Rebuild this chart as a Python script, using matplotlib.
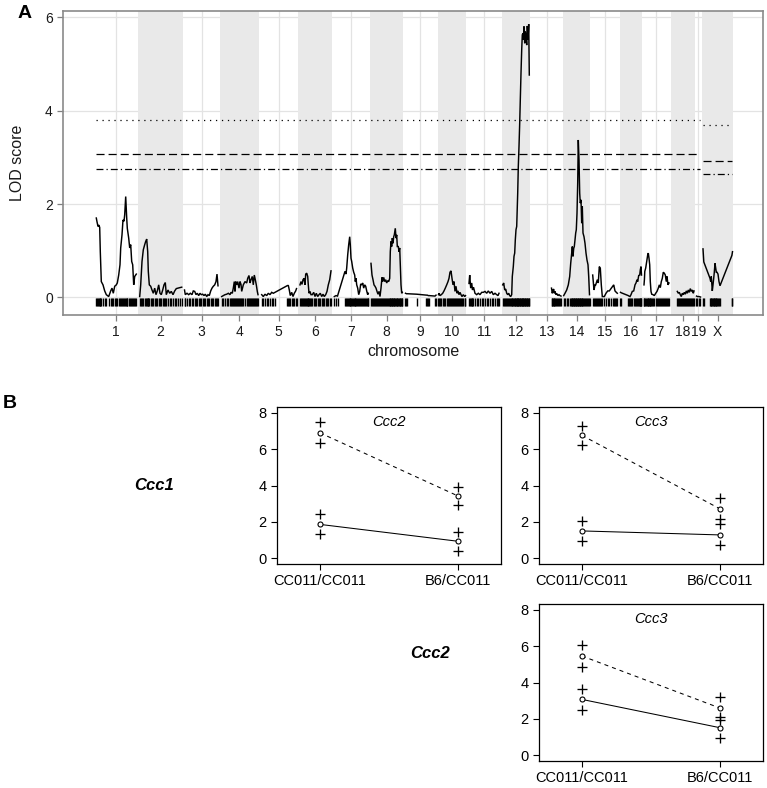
import matplotlib
matplotlib.use("Agg")
import matplotlib.pyplot as plt
import numpy as np

plt.rcParams['font.family'] = ['Liberation Sans', 'DejaVu Sans']
plt.rcParams['lines.scale_dashes'] = False

# ---------------- Panel A data ----------------
chrom_names = ["1", "2", "3", "4", "5", "6", "7", "8", "9", "10", "11", "12",
               "13", "14", "15", "16", "17", "18", "19", "X"]
chrom_lengths = [41, 43, 34, 37, 36, 32, 35, 31.5, 31, 27, 32, 27, 29, 26, 26,
                 21, 25, 22.5, 4, 29.5]
chrom_gap = 2.5

pos_1 = [0.8, 1.5, 2.5, 3.3, 4.2, 4.8, 5.8, 7.5, 9.2, 10.8, 13.2, 15.2, 16.5, 17.8, 19.2,
         20.8, 21.8, 23.2, 24.5, 25.2, 26.5, 27.5, 28.5, 29.2, 30.2, 31.2, 31.8, 33.2,
         34.2, 35.2, 36.2, 37.2, 38.2, 39.2, 40.8]
lod_1 = [1.70, 1.62, 1.52, 1.55, 1.50, 0.98, 0.34, 0.27, 0.14, 0.06, 0.02, 0.14, 0.20, 0.09,
         0.24, 0.27, 0.31, 0.48, 0.70, 1.06, 1.34, 1.66, 1.63, 1.77, 2.16, 1.70, 1.48,
         1.27, 1.06, 1.13, 0.77, 0.70, 0.27, 0.45, 0.50]
pos_2 = [0.7, 1.7, 3, 4.3, 5.7, 6.7, 7.7, 8.7, 9.3, 10.3, 11.7, 13, 14.3, 15.7, 17, 18.3,
         19.7, 21, 22.3, 23.7, 25, 26.3, 27.3, 29, 30.7, 32.3, 34, 35.7, 37.3, 39, 40.7, 42.7]
lod_2 = [0.02, 0.27, 0.77, 1.02, 1.13, 1.20, 1.25, 0.98, 0.56, 0.27, 0.24, 0.16, 0.09, 0.20,
         0.06, 0.14, 0.27, 0.09, 0.06, 0.16, 0.27, 0.32, 0.06, 0.16, 0.09, 0.13, 0.06, 0.14,
         0.19, 0.20, 0.21, 0.22]
pos_3 = [0, 0.8, 2.5, 4.2, 5.8, 7.5, 8.8, 10.2, 11.5, 12.8, 14.2, 15.5, 16.8, 18.2, 19.5,
         20.8, 22.2, 23.5, 24.8, 26.2, 27.5, 28.8, 30.2, 31.5, 32.5, 33.5]
lod_3 = [0.16, 0.06, 0.09, 0.06, 0.09, 0.06, 0.14, 0.13, 0.06, 0.09, 0.04, 0.09, 0.06, 0.07,
         0.04, 0.07, 0.02, 0.06, 0.04, 0.14, 0.20, 0.24, 0.27, 0.34, 0.50, 0.25]
pos_4 = [0.7, 2.3, 4, 5.7, 7.3, 9, 10, 11.3, 12.3, 13.3, 14, 14.7, 15.7, 16.7, 18, 19, 20,
         20.7, 22.3, 24, 25.7, 26.7, 28, 29, 30, 31.3, 32.3, 33.3, 34.3, 35.3, 36.3, 37]
lod_4 = [0.02, 0.04, 0.06, 0.07, 0.09, 0.06, 0.11, 0.09, 0.20, 0.34, 0.13, 0.34, 0.27, 0.34,
         0.20, 0.34, 0.28, 0.13, 0.27, 0.34, 0.31, 0.41, 0.47, 0.31, 0.38, 0.45, 0.27, 0.48,
         0.38, 0.27, 0.13, 0.06]
pos_5 = [1.2, 2.8, 4.5, 6.2, 7.8, 9.5, 11.2, 12.8, 14.5, 26.5, 27.8, 28.8, 29.8, 31.2, 32.5,
         33.8, 35.2, 36]
lod_5 = [0.06, 0.02, 0.07, 0.04, 0.09, 0.06, 0.11, 0.09, 0.11, 0.25, 0.26, 0.16, 0.04, 0.11,
         0.02, 0.09, 0.14, 0.19]
pos_6 = [1, 2, 3, 4, 5, 6, 6.7, 7.7, 8.7, 9.3, 10, 11, 12, 13.3, 14.7, 16, 17.3, 18.7, 20,
         21.3, 22.7, 24, 25.3, 26.7, 28, 29.3, 30.7, 32]
lod_6 = [0.27, 0.34, 0.28, 0.38, 0.41, 0.27, 0.50, 0.52, 0.45, 0.27, 0.09, 0.13, 0.06, 0.06,
         0.11, 0.02, 0.09, 0.02, 0.06, 0.09, 0.02, 0.07, 0.02, 0.06, 0.13, 0.27, 0.38, 0.57]
pos_7 = [0.8, 2.5, 4, 11.5, 12.5, 13.2, 14.2, 15.2, 16.2, 16.8, 17.5, 18.2, 19.2, 20.2, 21.2,
         21.8, 22.5, 23.2, 24.2, 25.2, 26.2, 27.2, 28.2, 29.2, 30.2, 31.2, 32.2, 33.2, 34.2, 34.8]
lod_7 = [0.02, 0.04, 0.03, 0.56, 0.50, 0.63, 0.91, 1.13, 1.30, 1.13, 0.84, 0.77, 0.63, 0.54,
         0.48, 0.34, 0.41, 0.27, 0.20, 0.06, 0.13, 0.29, 0.27, 0.31, 0.20, 0.27, 0.24, 0.14,
         0.06, 0.09]
pos_8 = [0, 1, 2, 3, 4, 5, 6, 7, 8, 9, 10, 11, 11.7, 12.7, 13.7, 14.7, 15.7, 16.7, 17.7, 18.7,
         19.3, 20, 20.7, 21.3, 22, 22.7, 23.3, 24.3, 25, 25.7, 26.3, 27.3, 28, 28.7, 29.3, 30,
         30.7, 31.3]
lod_8 = [0.73, 0.48, 0.38, 0.27, 0.24, 0.20, 0.13, 0.07, 0.13, 0.02, 0.20, 0.43, 0.34, 0.43,
         0.34, 0.38, 0.31, 0.36, 0.34, 0.41, 0.98, 1.20, 1.09, 1.27, 1.16, 1.30, 1.34, 1.48,
         1.27, 1.34, 1.09, 1.09, 0.98, 1.06, 0.70, 0.27, 0.09, 0.11]
pos_9 = [0.5, 1.5, 2.5, 11.7, 21.5, 22.3, 23.3, 24.3, 30, 31]
lod_9 = [0.09, 0.08, 0.08, 0.07, 0.05, 0.05, 0.04, 0.04, 0.03, 0.05]
pos_10 = [0, 0.5, 1.5, 2.8, 4.2, 5.5, 6.8, 8.2, 9.5, 10.5, 11.5, 12.5, 13.5, 14.5, 15.5, 16.5,
          17.5, 18.5, 19.5, 20.5, 21.5, 22.5, 23.5, 24.8, 26.2, 27]
lod_10 = [0.06, 0.09, 0.04, 0.06, 0.09, 0.14, 0.20, 0.27, 0.34, 0.41, 0.54, 0.57, 0.41, 0.27,
          0.34, 0.13, 0.24, 0.09, 0.14, 0.06, 0.11, 0.06, 0.02, 0.06, 0.02, 0.04]
pos_11 = [1, 1.7, 2.7, 3.7, 4.5, 5.5, 7, 8.7, 10.3, 12, 13.7, 15.3, 17, 18.7, 20.3, 22, 23.7,
          25.3, 27, 28.7, 30, 31]
lod_11 = [0.30, 0.48, 0.20, 0.31, 0.16, 0.22, 0.09, 0.06, 0.09, 0.06, 0.11, 0.11, 0.13, 0.09,
          0.14, 0.09, 0.13, 0.06, 0.09, 0.06, 0.04, 0.09]
pos_12 = [0.2, 1.2, 2.2, 3.2, 4.2, 5.2, 6.2, 7.2, 8.2, 9.2, 9.8, 10.8, 11.5, 12.2, 12.8, 13.5,
          14.2, 14.5, 15.2, 15.8, 16.5, 17.2, 17.8, 18.5, 19.2, 19.8, 20.5, 20.8, 21.5, 22.2,
          22.8, 23.5, 24.2, 24.8, 25.5, 26.2, 26.8]
lod_12 = [0.27, 0.31, 0.16, 0.18, 0.09, 0.06, 0.09, 0.04, 0.02, 0.06, 0.45, 0.66, 0.88, 0.95,
          1.23, 1.45, 1.52, 1.73, 2.23, 2.80, 3.23, 3.73, 4.23, 4.80, 5.30, 5.62, 5.65, 5.51,
          5.80, 5.44, 5.69, 5.58, 5.40, 5.81, 5.51, 5.85, 4.76]
pos_13 = [19.5, 20.3, 21, 21.7, 22.3, 23, 24, 25, 26, 27, 28, 29]
lod_13 = [0.20, 0.09, 0.16, 0.18, 0.09, 0.13, 0.06, 0.08, 0.04, 0.06, 0.04, 0.03]
pos_14 = [0.2, 1.5, 3.2, 4.8, 6.2, 7.2, 8.2, 8.8, 9.5, 10.2, 10.8, 11.5, 12.2, 12.8, 13.5,
          14.2, 14.8, 15.5, 16.2, 16.8, 17.5, 18.2, 18.8, 19.5, 20.5, 21.5, 22.5, 23.5, 24.5,
          25.2, 26]
lod_14 = [0.04, 0.09, 0.16, 0.27, 0.45, 0.73, 0.95, 1.09, 0.88, 1.05, 1.09, 1.23, 1.38, 1.45,
          1.80, 2.45, 3.37, 2.94, 2.23, 2.02, 2.09, 1.59, 1.95, 1.38, 1.30, 1.16, 0.95, 0.80,
          0.70, 0.45, 0.06]
pos_15 = [0.7, 2, 3, 3.7, 5.3, 6.3, 7.3, 8.3, 9.3, 10.3, 12.3, 14, 15.7, 17.3, 19, 20.7, 21.7,
          23, 24.3, 25.3]
lod_15 = [0.48, 0.16, 0.27, 0.27, 0.38, 0.31, 0.66, 0.63, 0.27, 0.02, 0.02, 0.09, 0.14, 0.14,
          0.19, 0.24, 0.27, 0.14, 0.11, 0.09]
pos_16 = [0, 0.8, 7.8, 8.5, 9.5, 10.5, 11.8, 13.2, 14.5, 15.5, 16.5, 17.2, 18.2, 19.2, 19.8,
          20.5, 21]
lod_16 = [0.11, 0.10, 0.04, 0.03, 0.02, 0.06, 0.13, 0.14, 0.27, 0.31, 0.38, 0.34, 0.47, 0.48,
          0.59, 0.66, 0.48]
pos_17 = [0, 0.4, 0.8, 1.7, 2.7, 3.7, 4.3, 5, 5.7, 6.3, 7, 7.7, 9, 10.3, 11.7, 13, 14.3, 15.3,
          16.3, 17.3, 18.3, 19.3, 20.3, 21.3, 22.3, 23, 24, 25]
lod_17 = [0.27, 0.38, 0.56, 0.63, 0.77, 0.91, 0.95, 0.84, 0.70, 0.34, 0.13, 0.07, 0.06, 0.04,
          0.09, 0.13, 0.20, 0.27, 0.21, 0.34, 0.41, 0.54, 0.52, 0.48, 0.34, 0.45, 0.27, 0.31]
pos_18 = [5.8, 6.8, 7.8, 8.8, 9.8, 10.8, 11.8, 12.8, 13.8, 14.8, 15.8, 16.8, 17.8, 18.8, 19.8,
          20.8, 21.8, 22.5]
lod_18 = [0.13, 0.09, 0.11, 0.06, 0.02, 0.09, 0.06, 0.11, 0.07, 0.14, 0.09, 0.16, 0.11, 0.19,
          0.13, 0.16, 0.09, 0.14]
pos_19 = [0, 1, 2.5, 4]
lod_19 = [0.03, 0.02, 0.02, 0.01]
pos_X = [0, 0.8, 7, 7.7, 8.3, 9.3, 10, 10.7, 11.3, 12, 12.7, 13.3, 14, 15, 16, 17, 28.9, 29.5]
lod_X = [1.04, 0.76, 0.41, 0.34, 0.45, 0.14, 0.27, 0.41, 0.54, 0.73, 0.63, 0.54, 0.54, 0.50,
         0.34, 0.25, 0.90, 0.98]

all_pos = [pos_1, pos_2, pos_3, pos_4, pos_5, pos_6, pos_7, pos_8, pos_9, pos_10, pos_11,
           pos_12, pos_13, pos_14, pos_15, pos_16, pos_17, pos_18, pos_19, pos_X]
all_lod = [lod_1, lod_2, lod_3, lod_4, lod_5, lod_6, lod_7, lod_8, lod_9, lod_10, lod_11,
           lod_12, lod_13, lod_14, lod_15, lod_16, lod_17, lod_18, lod_19, lod_X]

thr_auto = [3.80, 3.08, 2.74]   # dotted, dashed, dot-dash
thr_x = [3.69, 2.93, 2.64]

# ---------------- Panel B data ----------------
genotypes = ["CC011/CC011", "B6/CC011"]
row_labels = ["Ccc1", "Ccc2"]
panel_titles = ["Ccc2", "Ccc3", "Ccc3"]

p1_dash_mean = [6.90, 3.42]; p1_dash_hi = [7.51, 3.93]; p1_dash_lo = [6.32, 2.90]
p1_sol_mean = [1.86, 0.93];  p1_sol_hi = [2.41, 1.46];  p1_sol_lo = [1.32, 0.38]
p2_dash_mean = [6.76, 2.71]; p2_dash_hi = [7.29, 3.29]; p2_dash_lo = [6.25, 2.18]
p2_sol_mean = [1.50, 1.28];  p2_sol_hi = [2.07, 1.86];  p2_sol_lo = [0.93, 0.70]
p3_dash_mean = [5.46, 2.59]; p3_dash_hi = [6.05, 3.22]; p3_dash_lo = [4.87, 2.08]
p3_sol_mean = [3.07, 1.51];  p3_sol_hi = [3.64, 1.91];  p3_sol_lo = [2.48, 0.95]

# ---------------- Figure ----------------
W, H = 767, 788
fig = plt.figure(figsize=(W / 100, H / 100), dpi=100)

def frac(l, t, r, b):
    return [l / W, 1 - b / H, (r - l) / W, (b - t) / H]

# ===== Panel A =====
axA = fig.add_axes(frac(63, 11, 763, 315))
starts = []
s = 0.0
for L in chrom_lengths:
    starts.append(s)
    s += L + chrom_gap
ends = [st + L for st, L in zip(starts, chrom_lengths)]
centers = [(st + e) / 2 for st, e in zip(starts, ends)]

band_col = '#E9E9E9'
for i in range(len(chrom_names)):
    if i % 2 == 1:
        axA.axvspan(starts[i] - 0.6, ends[i] + 0.6, color=band_col, lw=0, zorder=0.6)

for yv in [0, 2, 4, 6]:
    axA.axhline(yv, color='#E3E3E3', lw=0.9, zorder=0.5)
for c in centers:
    axA.axvline(c, color='#E3E3E3', lw=0.9, zorder=0.5)

for st, p, l in zip(starts, all_pos, all_lod):
    xs = np.asarray(p) + st
    axA.plot(xs, l, color='black', lw=1.05, zorder=3, solid_joinstyle='miter')
    axA.vlines(xs, -0.18, -0.015, color='black', lw=1.0, zorder=3)

styles = [(0, (0.9, 3.4)), (0, (5.8, 2.9)), (0, (5.0, 2.2, 0.9, 2.2))]
for yv, ls in zip(thr_auto, styles):
    axA.plot([starts[0], ends[18]], [yv, yv], color='black', lw=0.9, linestyle=ls, zorder=2.5)
for yv, ls in zip(thr_x, styles):
    axA.plot([starts[19], ends[19]], [yv, yv], color='black', lw=0.9, linestyle=ls, zorder=2.5)

axA.set_xlim(-32.5, ends[-1] + 30.5)
axA.set_ylim(-0.375, 6.13)
axA.set_xticks(centers)
axA.set_xticklabels(chrom_names)
axA.set_yticks([0, 2, 4, 6])
axA.tick_params(direction='out', length=4.3, width=0.9, color='#7F7F7F',
                labelsize=10, pad=3, labelcolor='#1A1A1A')
for sp in axA.spines.values():
    sp.set_color('#8A8A8A')
    sp.set_linewidth(1.2)
fig.text(18 / W, 1 - 163 / H, "LOD score", rotation=90, ha='center', va='center',
         fontsize=11.5, color='#1A1A1A')
fig.text(413 / W, 1 - 351 / H, "chromosome", ha='center', va='center',
         fontsize=11.5, color='#1A1A1A')

fig.text(25 / W, 1 - 14 / H, "A", ha='center', va='center', fontsize=14, fontweight='bold')
fig.text(10 / W, 1 - 404 / H, "B", ha='center', va='center', fontsize=14, fontweight='bold')

# ===== Panel B =====
def effect_panel(ax, title, dmean, dhi, dlo, smean, shi, slo):
    x = [1, 2]
    ax.plot(x, dmean, color='black', lw=0.75, linestyle=(0, (2.9, 2.9)), zorder=2)
    ax.plot(x, smean, color='black', lw=0.75, zorder=2)
    for vals in (dhi, dlo, shi, slo):
        ax.plot(x, vals, linestyle='none', marker='+', ms=6.5, mew=0.95, color='black', zorder=3)
    for vals in (dmean, smean):
        ax.plot(x, vals, linestyle='none', marker='o', ms=3.6, mew=0.8, mfc='white',
                mec='black', zorder=4)
    ax.set_xlim(0.69, 2.31)
    ax.set_ylim(-0.32, 8.32)
    ax.set_xticks(x)
    ax.set_xticklabels(genotypes)
    ax.set_yticks([0, 2, 4, 6, 8])
    ax.tick_params(direction='out', length=4.5, width=0.8, labelsize=10.5, pad=3)
    for sp in ax.spines.values():
        sp.set_linewidth(0.9)
    ax.text(0.5, 0.905, title, transform=ax.transAxes, ha='center', va='center',
            fontsize=10.5, fontstyle='italic')

ax1 = fig.add_axes(frac(277, 407, 501, 564))
effect_panel(ax1, panel_titles[0], p1_dash_mean, p1_dash_hi, p1_dash_lo,
             p1_sol_mean, p1_sol_hi, p1_sol_lo)
ax2 = fig.add_axes(frac(539, 407, 763, 564))
effect_panel(ax2, panel_titles[1], p2_dash_mean, p2_dash_hi, p2_dash_lo,
             p2_sol_mean, p2_sol_hi, p2_sol_lo)
ax3 = fig.add_axes(frac(539, 604, 763, 761))
effect_panel(ax3, panel_titles[2], p3_dash_mean, p3_dash_hi, p3_dash_lo,
             p3_sol_mean, p3_sol_hi, p3_sol_lo)

fig.text(154 / W, 1 - 486 / H, row_labels[0], ha='center', va='center', fontsize=12,
         fontweight='bold', fontstyle='italic')
fig.text(430 / W, 1 - 654 / H, row_labels[1], ha='center', va='center', fontsize=12,
         fontweight='bold', fontstyle='italic')

fig.savefig("out.png", dpi=100)
